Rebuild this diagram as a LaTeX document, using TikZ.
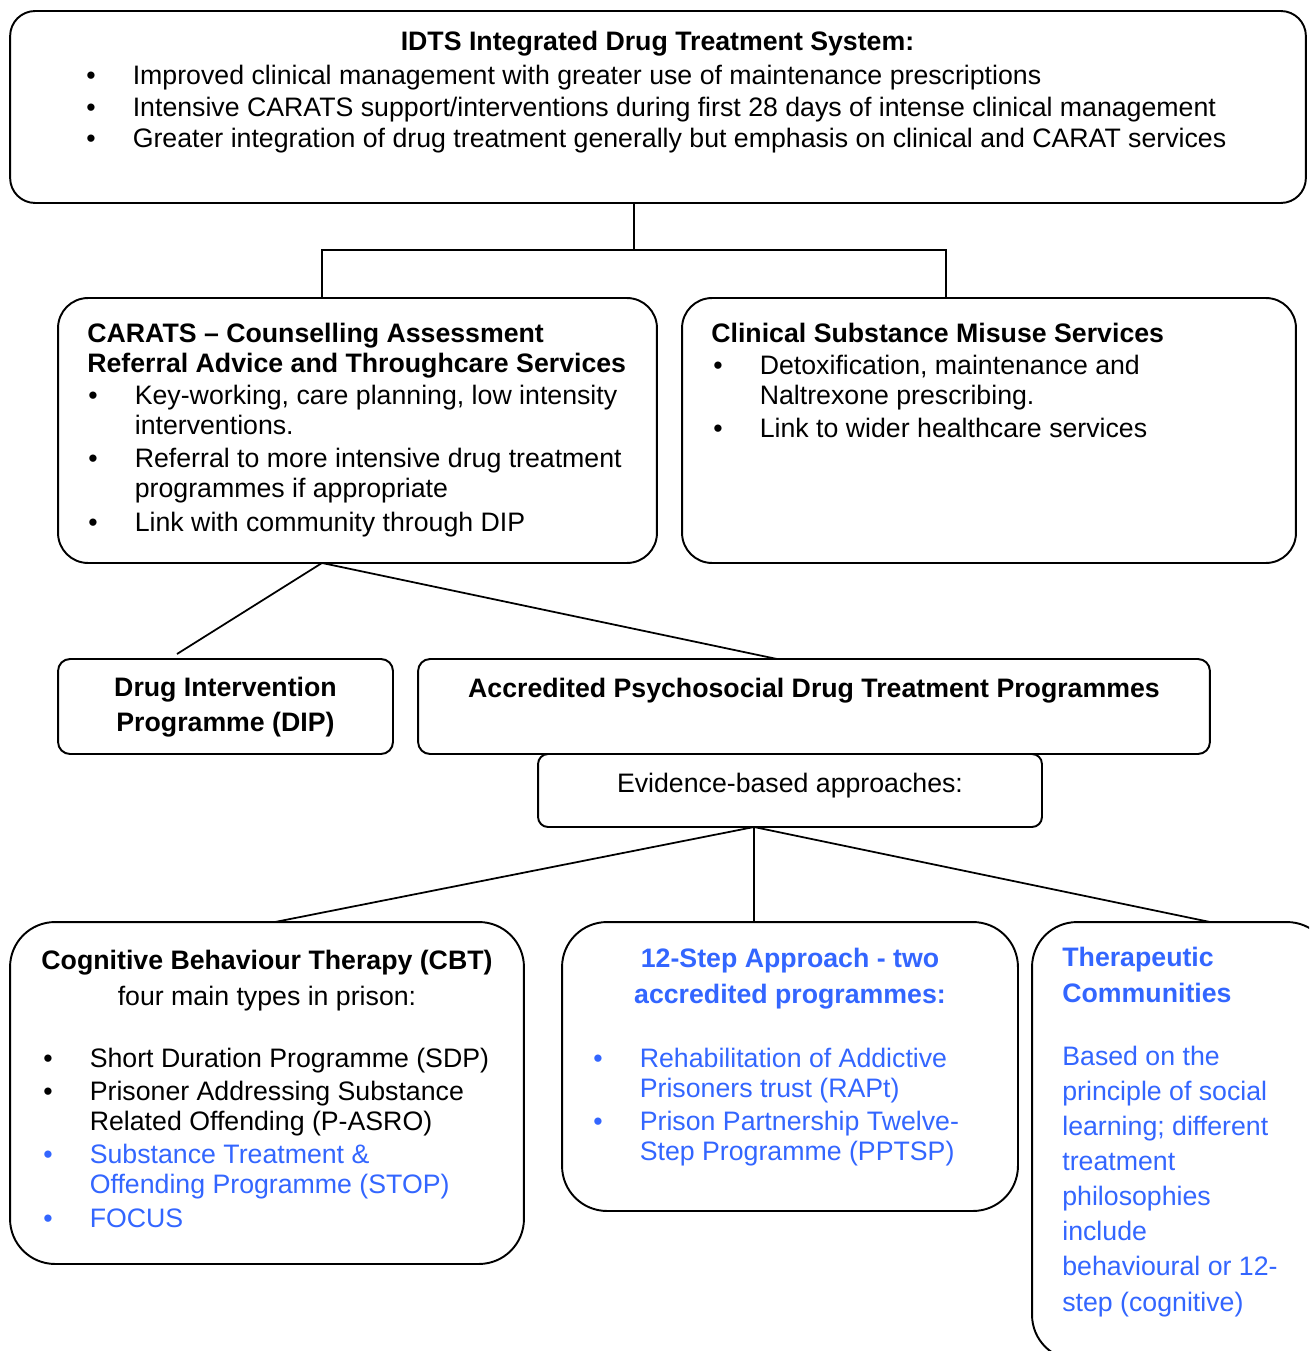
\documentclass[tikz,border=0pt]{standalone}
\usepackage{fontspec}
\setmainfont{Liberation Sans}
\definecolor{stepblue}{RGB}{51,102,255}
\newcommand{\bodyfont}[1]{\fontsize{15.2pt}{#1}\selectfont}
\newcommand{\bul}{\makebox[0.93cm][l]{\textbullet}}
\newcommand{\ind}{\hspace*{0.93cm}}

\begin{document}
\begin{tikzpicture}[x=0.02cm, y=-0.02cm,
  box/.style={draw, line width=1.1pt, inner sep=0pt, outer sep=0pt},
  link/.style={line width=1pt},
  txt/.style={inner sep=0pt, align=left, anchor=base west}]
\fill[white] (0,0) rectangle (1309,1351);
\useasboundingbox (0,0) rectangle (1309,1351);
\clip (0,0) rectangle (1309,1351);

% multi-line texts are placed at the baseline of their last line
\node[box, rounded corners=0.5cm, minimum width=25.92cm, minimum height=3.84cm] (idts) at (658,107) {};
\node[inner sep=0pt, anchor=base, font=\bodyfont{18.1pt}\bfseries] (idtshead) at (657.5,51) {IDTS Integrated Drug Treatment System:};
\node[txt, font=\bodyfont{18.1pt}] (idtslist) at (86,148)
{\bul Improved clinical management with greater use of maintenance prescriptions\\
\bul Intensive CARATS support/interventions during first 28 days of intense clinical management\\
\bul Greater integration of drug treatment generally but emphasis on clinical and CARAT services};

\node[box, rounded corners=0.6cm, minimum width=11.98cm, minimum height=5.3cm] (carats) at (357.5,430.5) {};
\node[txt, font=\bodyfont{17pt}\bfseries] (caratshead) at (87,372)
{CARATS – Counselling Assessment\\
Referral Advice and Throughcare Services};
\node[txt, font=\bodyfont{17.3pt}] (caratslist) at (88,531)
{\bul Key-working, care planning, low intensity\\
\ind interventions.\\[1.5pt]
\bul Referral to more intensive drug treatment\\
\ind programmes if appropriate\\[1.5pt]
\bul Link with community through DIP};

\node[box, rounded corners=0.6cm, minimum width=12.28cm, minimum height=5.3cm] (clinical) at (989,430.5) {};
\node[txt, font=\bodyfont{18.1pt}\bfseries] (clinicalhead) at (711,342) {Clinical Substance Misuse Services};
\node[txt, font=\bodyfont{17.4pt}] (clinicallist) at (713,437)
{\bul Detoxification, maintenance and\\
\ind Naltrexone prescribing.\\[1pt]
\bul Link to wider healthcare services};

\coordinate (split) at (634,250);
\coordinate (lj) at (322,250);
\coordinate (rj) at (946,250);
\draw[link] (idts.south -| split) -- (split);
\draw[link] (lj |- carats.north) -- (lj) -- (rj) -- (rj |- clinical.north);

\node[box, rounded corners=0.24cm, minimum width=6.7cm, minimum height=1.9cm] (dip) at (225.5,706.5) {};
\node[inner sep=0pt, anchor=base, align=center, font=\bodyfont{19.8pt}\bfseries] (diptext) at (225.5,731)
{Drug Intervention\\Programme (DIP)};

\node[box, rounded corners=0.24cm, minimum width=15.84cm, minimum height=1.9cm] (apdtp) at (814,706.5) {};
\node[inner sep=0pt, anchor=base, font=\bodyfont{18.1pt}\bfseries] (apdtptext) at (814,697)
{Accredited Psychosocial Drug Treatment Programmes};

\node[box, rounded corners=0.2cm, minimum width=10.08cm, minimum height=1.46cm] (evid) at (790,790.5) {};
\node[inner sep=0pt, anchor=base, font=\bodyfont{18.1pt}] (evidtext) at (790,792) {Evidence-based approaches:};

\coordinate (dipend) at (177,654);
\coordinate (apdtpin) at (777,659);
\draw[link] (dipend) -- (lj |- carats.south) -- (apdtpin);

\node[box, rounded corners=0.9cm, minimum width=10.28cm, minimum height=6.84cm] (cbt) at (267,1093) {};
\node[inner sep=0pt, anchor=base, align=center, font=\bodyfont{20.4pt}] (cbthead) at (267,1005)
{\textbf{Cognitive Behaviour Therapy (CBT)}\\four main types in prison:};
\node[txt, font=\bodyfont{17.3pt}] (cbtlist) at (43,1227)
{\bul Short Duration Programme (SDP)\\[1.5pt]
\bul Prisoner Addressing Substance\\
\ind Related Offending (P-ASRO)\\[1.5pt]
\textcolor{stepblue}{\bul Substance Treatment \&}\\
\textcolor{stepblue}{\ind Offending Programme (STOP)}\\[1.5pt]
\textcolor{stepblue}{\bul FOCUS}};

\node[box, rounded corners=0.9cm, minimum width=9.12cm, minimum height=5.78cm] (twelve) at (790,1066.5) {};
\node[inner sep=0pt, anchor=base, align=center, text=stepblue, font=\bodyfont{20.4pt}\bfseries] (twelvehead) at (790,1003)
{12-Step Approach - two\\accredited programmes:};
\node[txt, text=stepblue, font=\bodyfont{17pt}] (twelvelist) at (593,1160)
{\bul Rehabilitation of Addictive\\
\ind Prisoners trust (RAPt)\\[1.8pt]
\bul Prison Partnership Twelve-\\
\ind Step Programme (PPTSP)};

\node[box, rounded corners=0.9cm, minimum width=6cm, minimum height=8.76cm] (tc) at (1182,1141) {};
\node[txt, text=stepblue, font=\bodyfont{20.4pt}\bfseries] (tchead) at (1062,1002)
{Therapeutic\\Communities};
\node[txt, text=stepblue, font=\bodyfont{20pt}] (tcbody) at (1062,1311)
{Based on the\\principle of social\\learning; different\\treatment\\philosophies\\include\\behavioural or 12-\\step (cognitive)};

\coordinate (cbtin) at (275,922);
\coordinate (tcin) at (1210,922);
\coordinate (evfoot) at (754,827);
\draw[link] (cbtin) -- (evfoot) -- (tcin);
\draw[link] (evfoot) -- (twelve.north -| evfoot);
\end{tikzpicture}
\end{document}
